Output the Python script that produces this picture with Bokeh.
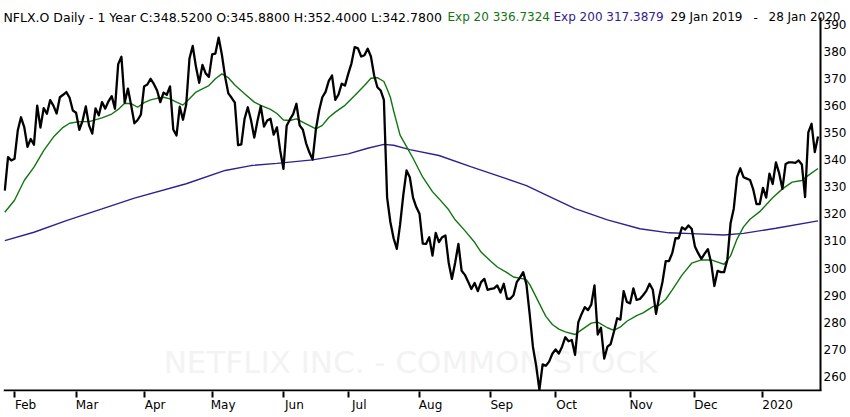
from bokeh.plotting import figure
from bokeh.models import Range1d, FixedTicker, LinearAxis, Label
from bokeh.embed import file_html
from bokeh.resources import INLINE
from bokeh.core.properties import value

# ---------------- data ----------------
symbol_text = "NFLX.O Daily -  1 Year"
start_date = "29 Jan 2019"
end_date = "28 Jan 2020"
last_open = 345.88
last_high = 352.40
last_low = 342.78
watermark_text = "NETFLIX INC. - COMMON STOCK"

# daily closes, one per trading day (29 Jan 2019 .. 28 Jan 2020)
close = [
    328.6, 340.9, 339.7, 340.3, 350.7, 355.6, 352.0, 344.7, 347.6, 345.5,
    359.9, 351.8, 359.0, 356.9, 361.9, 359.9, 357.0, 363.0, 363.9, 364.9,
    362.8, 358.1, 357.3, 351.0, 354.3, 359.6, 352.6, 349.6, 358.9, 356.3,
    361.2, 358.8, 361.5, 363.4, 358.8, 375.2, 377.9, 361.0, 366.2, 360.0,
    353.4, 354.6, 356.6, 367.0, 367.7, 369.8, 367.9, 365.5, 361.2, 364.7,
    363.9, 367.0, 351.1, 348.9, 359.5, 354.7, 360.4, 377.3, 381.9, 374.2,
    368.3, 374.9, 371.8, 370.5, 378.8, 379.1, 385.0, 378.7, 370.5, 364.4,
    362.8, 361.0, 345.3, 345.6, 355.0, 359.3, 354.5, 348.1, 354.3, 359.7,
    352.2, 354.4, 355.1, 349.2, 351.9, 343.3, 336.6, 352.5, 354.8, 356.8,
    360.6, 352.6, 351.0, 346.0, 342.7, 340.0, 351.0, 358.0, 363.0, 365.0,
    369.0, 371.0, 362.0, 364.0, 368.0, 367.3, 371.6, 375.5, 381.5, 381.0,
    378.0, 378.5, 380.9, 378.0, 371.0, 366.7, 365.5, 362.0, 326.0, 317.0,
    311.0, 307.1, 316.0, 327.0, 336.0, 333.5, 326.0, 322.5, 320.0, 309.0,
    308.9, 311.4, 304.6, 313.0, 309.6, 311.4, 312.0, 302.0, 296.0, 302.0,
    308.9, 299.0, 297.5, 295.0, 292.3, 294.5, 291.5, 294.8, 296.0, 292.0,
    292.3, 292.5, 293.6, 291.0, 294.2, 288.7, 288.7, 290.0, 294.8, 296.5,
    298.5, 294.0, 283.0, 271.0, 264.0, 255.1, 264.5, 264.0, 265.5, 268.4,
    270.0, 268.5, 271.0, 274.5, 273.0, 273.5, 268.0, 280.0, 283.0, 285.6,
    284.5, 286.5, 293.6, 275.5, 278.0, 266.6, 271.0, 272.0, 276.5, 281.5,
    281.0, 291.5, 287.5, 287.0, 292.5, 288.3, 288.6, 290.0, 291.6, 294.2,
    292.0, 283.1, 289.6, 295.0, 302.6, 302.6, 305.5, 311.0, 311.0, 315.0,
    314.2, 315.7, 314.5, 308.0, 305.5, 303.4, 305.3, 307.0, 302.0, 293.4,
    299.0, 298.5, 298.5, 303.0, 316.5, 322.0, 333.5, 336.8, 333.5, 333.0,
    332.5, 329.0, 323.6, 323.6, 329.6, 326.0, 334.8, 331.0, 339.0, 335.0,
    329.2, 338.4, 339.0, 339.0, 338.8, 339.7, 338.2, 326.2, 350.0, 353.2,
    342.8, 348.52,
]

# 20-day exponential average, read at trading-day positions
ema20_day = [0, 3, 6, 9, 12, 15, 18, 20, 23, 26, 30, 33, 35, 37, 39, 41, 43, 45, 47, 49,
             51, 53, 55, 57, 59, 61, 63, 65, 67, 69, 71, 74, 77, 79, 82, 84, 86, 88, 90, 93,
             96, 98, 100, 102, 105, 108, 111, 113, 115, 117, 118, 119, 120, 122, 124, 126, 129, 132, 134, 137,
             139, 142, 145, 147, 150, 152, 155, 157, 160, 161, 162, 164, 166, 167, 169, 171, 173, 176, 178, 181,
             183, 186, 188, 190, 192, 195, 197, 200, 202, 204, 206, 208, 209, 212, 215, 218, 220, 222, 224, 226,
             228, 230, 233, 237, 240, 243, 246, 248, 251]
ema20_val = [320.6, 325.0, 332.3, 337.2, 343.3, 348.3, 351.9, 353.4, 354.0, 354.0, 355.4, 356.8, 358.5, 360.8, 360.6, 359.3, 361.0, 362.0, 362.6, 363.0,
             362.4, 361.2, 360.1, 362.4, 364.9, 366.1, 367.3, 369.8, 371.6, 370.2, 367.5, 364.3, 361.2, 360.0, 358.5, 357.0, 354.6, 354.4, 355.0, 353.2,
             351.3, 352.6, 355.5, 357.5, 360.0, 363.6, 367.3, 370.0, 370.2, 368.8, 366.0, 363.0, 358.0, 349.0, 344.8, 340.5, 333.5, 328.2, 325.6, 321.5,
             317.8, 313.8, 309.5, 305.9, 302.5, 300.4, 298.3, 296.7, 296.0, 295.6, 294.0, 289.3, 284.5, 282.2, 279.2, 277.5, 276.5, 275.5, 277.2, 279.7,
             280.1, 278.0, 277.0, 278.3, 280.4, 282.5, 283.5, 285.8, 286.4, 288.5, 292.0, 295.6, 297.4, 301.8, 303.0, 303.0, 302.2, 301.4, 304.5, 310.7,
             315.2, 318.0, 320.8, 325.9, 329.2, 331.7, 332.3, 334.2, 336.7324]

# 200-day exponential average
ema200_day = [0, 9, 19, 30, 40, 56, 68, 76, 84, 95, 106, 112, 117, 120, 125, 134, 144, 155, 161, 167,
              176, 186, 196, 205, 212, 222, 228, 238, 251]
ema200_val = [310.1, 313.2, 317.5, 321.8, 325.8, 331.1, 336.0, 337.8, 338.6, 339.9, 342.1, 344.2, 345.6, 345.3, 343.7, 341.5, 337.3, 332.9, 330.4, 327.0,
              321.9, 317.8, 314.5, 313.0, 312.7, 312.2, 312.8, 314.7, 317.3879]

# month axis: first trading day of each month
month_ticks = [3, 22, 43, 64, 86, 106, 128, 150, 170, 193, 213, 234]
month_labels = ["Feb", "Mar", "Apr", "May", "Jun", "Jul", "Aug", "Sep", "Oct", "Nov", "Dec", "2020"]
price_ticks = [260, 270, 280, 290, 300, 310, 320, 330, 340, 350, 360, 370, 380, 390]

# ---------------- layout / styling ----------------
FONT = "DejaVu Sans"
GREEN = "#127512"
PURPLE = "#33208f"
W, H = 850, 417
FL, FR, FT, FB = 3, 850, 0, 391          # plot frame edges in pixels
PX_PER_DAY, PX_DAY0 = 3.24, 4.3           # horizontal scale of the reference
XMIN = (FL - PX_DAY0) / PX_PER_DAY
XMAX = (FR - PX_DAY0) / PX_PER_DAY
PX_PER_USD, PY_390 = 2.712, 23.5          # vertical scale of the reference
YTOP = 390 + (PY_390 - FT) / PX_PER_USD
YMIN = 390 - (FB - PY_390) / PX_PER_USD


def px_x(px):
    return XMIN + (px - FL) * (XMAX - XMIN) / (FR - FL)


def px_y(py):
    return YTOP - (py - FT) * (YTOP - YMIN) / (FB - FT)


p = figure(width=W, height=H, x_range=Range1d(XMIN, XMAX), y_range=Range1d(YMIN, YTOP),
           x_axis_location=None, y_axis_location=None, output_backend="svg", toolbar_location=None,
           min_border_left=FL, min_border_right=W - FR, min_border_top=FT, min_border_bottom=H - FB,
           outline_line_color=None, background_fill_color="white", border_fill_color="white")
p.grid.visible = False

# faint watermark
p.add_layout(Label(x=px_x(410), y=px_y(361), text=watermark_text, text_align="center", text_baseline="middle",
                   text_font=FONT, text_font_size="31px", text_color="#f3f3f3", level="underlay"))

# axis lines: right price axis (starts below the header) and bottom time axis
p.segment(x0=[px_x(820)], y0=[px_y(17)], x1=[px_x(820)], y1=[px_y(390)], line_color="black", line_width=2)
p.segment(x0=[px_x(FL)], y0=[px_y(390)], x1=[px_x(821)], y1=[px_y(390)], line_color="black", line_width=2)

# price labels beside the right axis line
p.text(x=[px_x(823)] * len(price_ticks), y=price_ticks, text=[str(v) for v in price_ticks],
       text_font=value(FONT), text_font_size="12px", text_color="black",
       text_align="left", text_baseline="middle")

# month tick marks
xa1 = LinearAxis(ticker=FixedTicker(ticks=month_ticks), axis_line_color=None,
                 major_tick_out=6, major_tick_in=0, major_tick_line_width=2, major_tick_line_color="black",
                 minor_tick_line_color=None, major_label_standoff=0, major_label_text_font_size="0px",
                 major_label_overrides={t: "" for t in month_ticks})
p.add_layout(xa1, "below")

# month labels: each starts at its tick, as in the reference
label_pos = [round(t + len(lab) * 3.65 / PX_PER_DAY, 1) for t, lab in zip(month_ticks, month_labels)]
xa2 = LinearAxis(ticker=FixedTicker(ticks=label_pos), axis_line_color=None,
                 major_tick_line_color=None, minor_tick_line_color=None,
                 major_tick_out=0, major_tick_in=0, major_label_standoff=0,
                 major_label_overrides={pos: lab for pos, lab in zip(label_pos, month_labels)},
                 major_label_text_font=FONT, major_label_text_font_size="12px",
                 major_label_text_color="black")
p.add_layout(xa2, "below")

# header line (black / green / purple / black)
hdr_black = f"{symbol_text}   C:{close[-1]:.4f} O:{last_open:.4f} H:{last_high:.4f} L:{last_low:.4f}"
hdr_green = f"Exp 20 {ema20_val[-1]:.4f}"
hdr_purple = f"Exp 200 {ema200_val[-1]:.4f}"
hdr_y = px_y(16.5)
p.text(x=[px_x(3)], y=[hdr_y], text=[hdr_black], text_color="black",
       text_font=value(FONT), text_font_size="12.5px", text_align="left", text_baseline="alphabetic")
p.text(x=[px_x(447), px_x(553), px_x(670), px_x(753), px_x(768)], y=[hdr_y] * 5,
       text=[hdr_green, hdr_purple, start_date, "-", end_date],
       text_color=[GREEN, PURPLE, "black", "black", "black"],
       text_font=value(FONT), text_font_size="12px", text_align="left", text_baseline="alphabetic")

# data lines
days = list(range(len(close)))
p.line(ema200_day, ema200_val, line_color=PURPLE, line_width=1.4)
p.line(ema20_day, ema20_val, line_color=GREEN, line_width=1.4)
p.line(days, close, line_color="black", line_width=2.3, line_join="round")

open("out.html", "w").write(file_html(p, INLINE))
